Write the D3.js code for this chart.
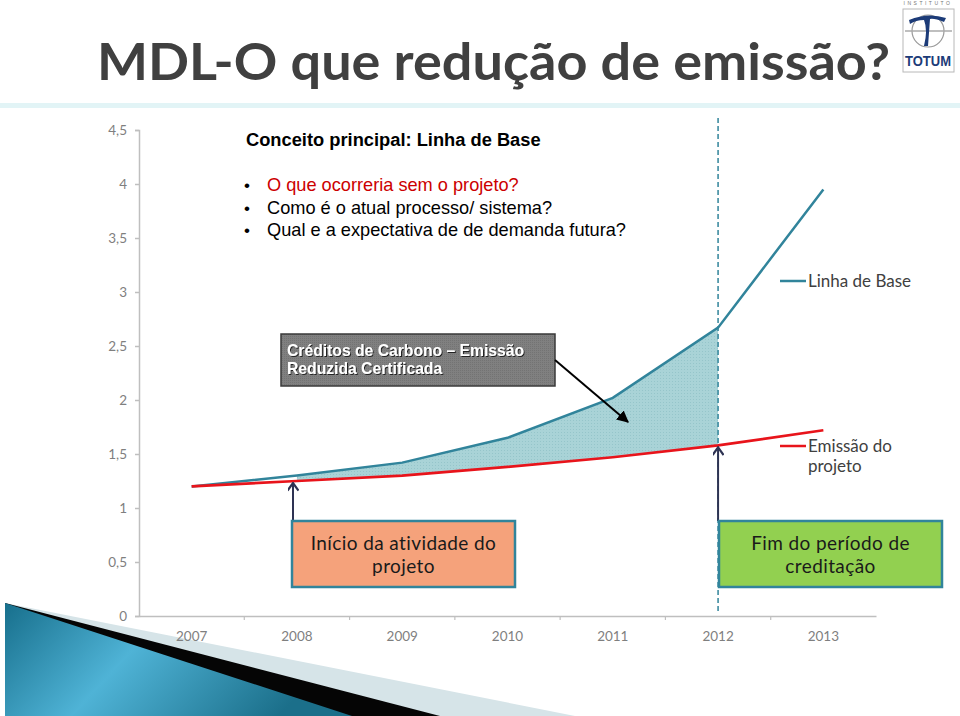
<!DOCTYPE html>
<html><head><meta charset="utf-8">
<script src="https://cdn.jsdelivr.net/npm/d3@7"></script>
<style>body{margin:0;background:#fff;}svg{display:block;}</style>
</head><body>
<svg id="c" width="960" height="716"></svg>
<script>
const years = ["2007","2008","2009","2010","2011","2012","2013"];
const baseline = [1.2, 1.3, 1.42, 1.65, 2.02, 2.67, 3.95];
const project = [1.2, 1.25, 1.3, 1.38, 1.47, 1.58, 1.72];
const yTicks = [0,0.5,1,1.5,2,2.5,3,3.5,4,4.5];
const creditStart = 1, creditEnd = 5;
const titleText = "MDL-O que redução de emissão?";
const bullets = ["O que ocorreria sem o projeto?","Como é o atual processo/ sistema?","Qual e a expectativa de de demanda futura?"];

const svg = d3.select("#c");
const gothic = "Lato, 'DejaVu Sans', sans-serif";
const arial = "'Liberation Sans', Arial, sans-serif";
const teal = "#31849b", red = "#e8141b", navy = "#2e3353";

const defs = svg.append("defs");
const g1 = defs.append("linearGradient").attr("id","blueg").attr("x1","0").attr("y1","0").attr("x2","1").attr("y2","0.3");
g1.append("stop").attr("offset","0").attr("stop-color","#176f8c");
g1.append("stop").attr("offset","0.45").attr("stop-color","#4fb3d6");
g1.append("stop").attr("offset","1").attr("stop-color","#1b6f8a");
const pat = defs.append("pattern").attr("id","stip").attr("width",3).attr("height",3).attr("patternUnits","userSpaceOnUse");
pat.append("rect").attr("width",3).attr("height",3).attr("fill","#a9d3d7");
pat.append("rect").attr("width",1).attr("height",1).attr("fill","#95c5ca");
const pat2 = defs.append("pattern").attr("id","gray").attr("width",2).attr("height",2).attr("patternUnits","userSpaceOnUse");
pat2.append("rect").attr("width",2).attr("height",2).attr("fill","#808080");
pat2.append("rect").attr("width",1).attr("height",1).attr("fill","#737373");
defs.append("marker").attr("id","openArrow").attr("viewBox","0 0 10 10").attr("refX",9).attr("refY",5)
  .attr("markerWidth",11).attr("markerHeight",11).attr("markerUnits","userSpaceOnUse").attr("orient","auto")
  .append("path").attr("d","M2,0 L9,5 L2,10").attr("fill","none").attr("stroke",navy).attr("stroke-width",2);
defs.append("marker").attr("id","blackArrow").attr("viewBox","0 0 10 10").attr("refX",9).attr("refY",5)
  .attr("markerWidth",12).attr("markerHeight",12).attr("markerUnits","userSpaceOnUse").attr("orient","auto")
  .append("path").attr("d","M0,0 L10,5 L0,10 Z").attr("fill","#000");
const sh = defs.append("filter").attr("id","tshadow");
sh.append("feDropShadow").attr("dx",1).attr("dy",1).attr("stdDeviation",0.3).attr("flood-color","#222");

// Title + band
svg.append("rect").attr("x",0).attr("y",103).attr("width",960).attr("height",5).attr("fill","#e2f4f6");
svg.append("text").attr("x",97).attr("y",80).attr("font-family",gothic).attr("font-weight","bold")
  .attr("font-size",51).attr("fill","#404040").attr("textLength",793).attr("lengthAdjust","spacingAndGlyphs").text(titleText);

// Logo
const lg = svg.append("g");
lg.append("text").attr("x",928).attr("y",5).attr("text-anchor","middle").attr("font-size",5).attr("letter-spacing",2.5)
  .attr("font-family",arial).attr("fill","#777").text("INSTITUTO");
lg.append("rect").attr("x",903).attr("y",9).attr("width",51).attr("height",63).attr("fill","#fff").attr("stroke","#b8b8b8").attr("stroke-width",1);
lg.append("circle").attr("cx",928).attr("cy",31).attr("r",16).attr("fill","none").attr("stroke","#999").attr("stroke-width",1.2);
lg.append("line").attr("x1",905).attr("x2",952).attr("y1",31).attr("y2",31).attr("stroke","#aaa").attr("stroke-width",1.5);
lg.append("path").attr("d","M909,20 Q928,12 946,18 L944,22 Q934,18 930,19 L928,46 L924,46 Q928,30 924,20 Q916,20 910,24 Z").attr("fill","#1c3b78");
lg.append("text").attr("x",928).attr("y",66).attr("text-anchor","middle").attr("font-size",14).attr("font-weight","bold")
  .attr("font-family",arial).attr("fill","#1c3b78").attr("textLength",46).attr("lengthAdjust","spacingAndGlyphs").text("TOTUM");

// Bottom-left decoration
svg.append("path").attr("d","M5,603 L575,716 L5,716 Z").attr("fill","#d6e4e8");
svg.append("path").attr("d","M5,603 L440,716 L5,716 Z").attr("fill","#050505");
svg.append("path").attr("d","M5,603 L352,716 L5,716 Z").attr("fill","url(#blueg)");

// Scales
const x = d3.scaleBand().domain(years).range([139,876]);
const y = d3.scaleLinear().domain([0,4.5]).range([616,130]);
const cx = d => x(d) + x.bandwidth()/2;

// Axes
const yAxis = svg.append("g").attr("transform","translate(139,0)")
  .call(d3.axisLeft(y).tickValues(yTicks).tickSize(4).tickPadding(8).tickFormat(d => String(d).replace(".",",")));
yAxis.selectAll("path,line").attr("stroke","#bfbfbf").attr("stroke-width",1.5);
yAxis.selectAll("text").attr("font-family",gothic).attr("font-size",13.5).attr("fill","#7f7f7f");
const xAxis = svg.append("g").attr("transform","translate(0,616)").call(d3.axisBottom(x).tickSize(0).tickPadding(15));
xAxis.selectAll("path").attr("stroke","#bfbfbf").attr("stroke-width",1.5);
xAxis.selectAll("text").attr("font-family",gothic).attr("font-size",13.5).attr("fill","#7f7f7f");
svg.append("g").selectAll("line").data(years.slice(1)).join("line")
  .attr("x1",d=>x(d)).attr("x2",d=>x(d)).attr("y1",616).attr("y2",620).attr("stroke","#bfbfbf").attr("stroke-width",1.2);

// Credit area
const idx = d3.range(creditStart, creditEnd+1);
const area = d3.area().x(i => cx(years[i])).y0(i => y(project[i])).y1(i => y(baseline[i]));
svg.append("path").attr("d",area(idx)).attr("fill","url(#stip)");

// Dashed vertical at end of crediting period
svg.append("line").attr("x1",cx(years[creditEnd])).attr("x2",cx(years[creditEnd])).attr("y1",118).attr("y2",612)
  .attr("stroke",teal).attr("stroke-width",1.5).attr("stroke-dasharray","5,3");

// Lines
const line = d3.line().x((d,i)=>cx(years[i])).y(d=>y(d));
svg.append("path").attr("d",line(baseline)).attr("fill","none").attr("stroke",teal).attr("stroke-width",2.5);
svg.append("path").attr("d",line(project)).attr("fill","none").attr("stroke",red).attr("stroke-width",2.7);

// Legend labels
function legend(yv, color, lines){
  svg.append("line").attr("x1",780).attr("x2",806).attr("y1",yv).attr("y2",yv).attr("stroke",color).attr("stroke-width",2.5);
  lines.forEach((t,k)=> svg.append("text").attr("x",808).attr("y",yv+6+k*20).attr("font-family",gothic)
    .attr("font-size",17).attr("fill","#404040").text(t));
}
legend(281, teal, ["Linha de Base"]);
legend(446, red, ["Emissão do","projeto"]);

// Text block
svg.append("text").attr("x",246).attr("y",146).attr("font-family",arial).attr("font-weight","bold")
  .attr("font-size",18.3).attr("fill","#000").text("Conceito principal: Linha de Base");
bullets.forEach((b,k)=>{
  const yy = 191 + k*22.5;
  svg.append("text").attr("x",244).attr("y",yy).attr("font-family",arial).attr("font-size",17).attr("fill","#000").text("•");
  svg.append("text").attr("x",267).attr("y",yy).attr("font-family",arial).attr("font-size",18.2)
    .attr("fill", k===0 ? "#cc0000" : "#000").text(b);
});

// Callout
svg.append("rect").attr("x",281).attr("y",334).attr("width",274).attr("height",52).attr("fill","url(#gray)").attr("stroke","#3a3a3a").attr("stroke-width",1.5);
["Créditos de Carbono – Emissão","Reduzida Certificada"].forEach((t,k)=>
  svg.append("text").attr("x",287).attr("y",356+k*18).attr("font-family",arial).attr("font-weight","bold")
    .attr("font-size",15.7).attr("fill","#fff").attr("filter","url(#tshadow)").text(t));
svg.append("line").attr("x1",555).attr("y1",360).attr("x2",628).attr("y2",422).attr("stroke","#000").attr("stroke-width",2).attr("marker-end","url(#blackArrow)");

// Milestone arrows
[[creditStart, 293],[creditEnd, cx(years[creditEnd])]].forEach(([i,xx])=>{
  const yTop = y(project[i]) + 2;
  svg.append("line").attr("x1",xx).attr("x2",xx).attr("y1",521).attr("y2",yTop).attr("stroke",navy).attr("stroke-width",2)
    .attr("marker-end","url(#openArrow)");
});

// Boxes
function box(x0, fill, lines){
  svg.append("rect").attr("x",x0).attr("y",521).attr("width",223).attr("height",66).attr("fill",fill).attr("stroke",teal).attr("stroke-width",2.5);
  lines.forEach((t,k)=> svg.append("text").attr("x",x0+111.5).attr("y",550+k*23).attr("text-anchor","middle")
    .attr("font-family",gothic).attr("font-size",19).attr("letter-spacing",0.4).attr("fill","#1a1a1a").text(t));
}
box(292, "#f5a27b", ["Início da atividade do","projeto"]);
box(719, "#92d050", ["Fim do período de","creditação"]);
</script>
</body></html>
